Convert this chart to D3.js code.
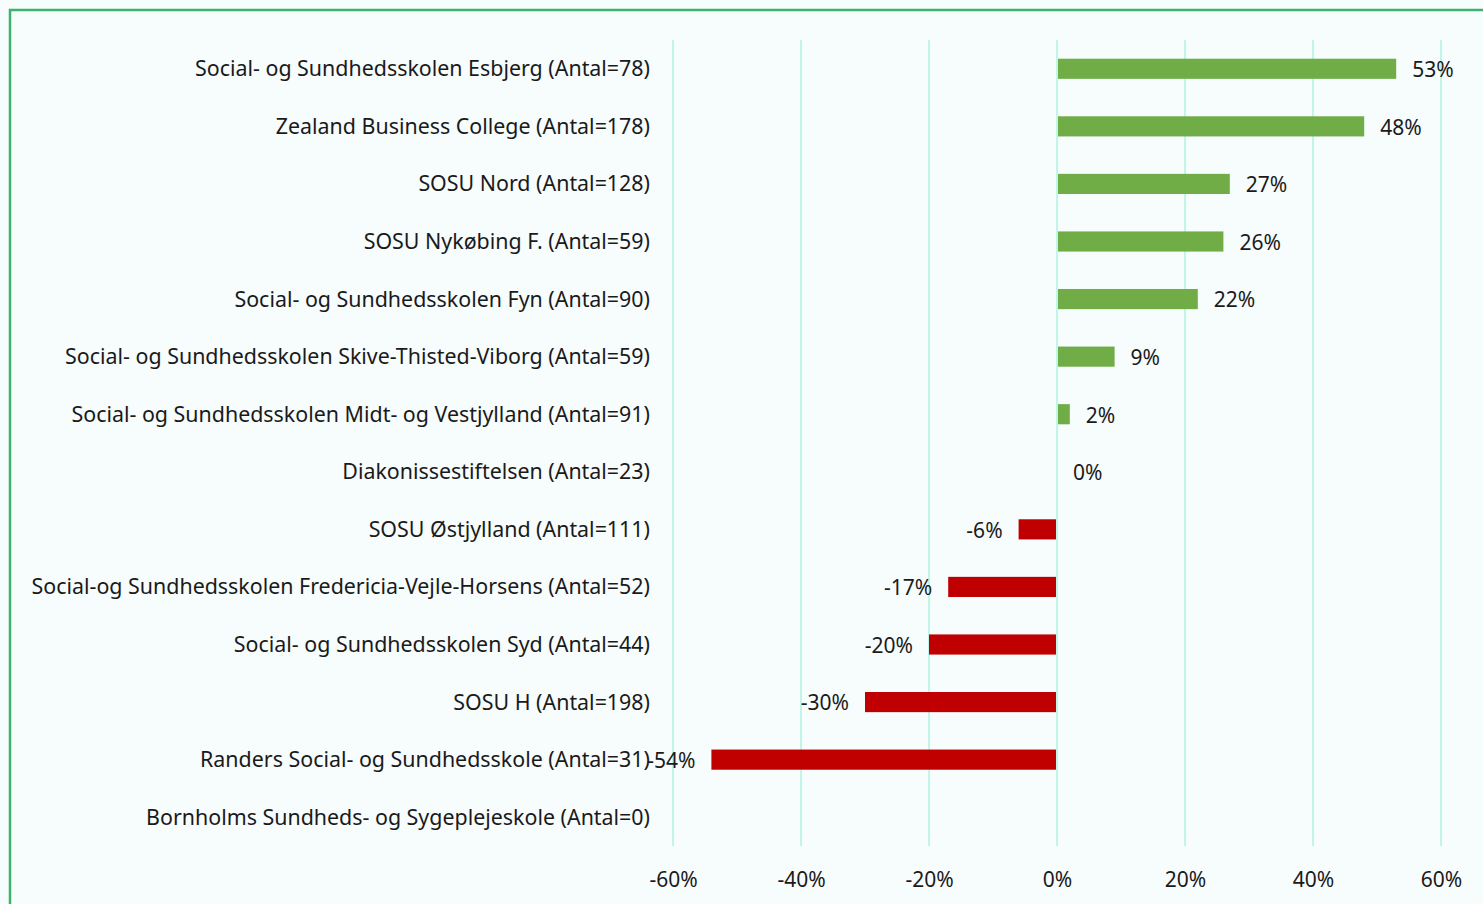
<!DOCTYPE html>
<html>
<head>
<meta charset="utf-8">
<script src="https://cdn.jsdelivr.net/npm/d3@7"></script>
<style>
  body { margin: 0; background: #f7fcfd; }
  #chart { width: 1483px; height: 904px; }
  text { font-family: "Noto Sans", sans-serif; fill: #1a1a1a; }
</style>
</head>
<body>
<div id="chart"></div>
<script>

// schools (with respondent counts) and their change
let schools = [
    "Social- og Sundhedsskolen Esbjerg (Antal=78)",
    "Zealand Business College (Antal=178)",
    "SOSU Nord (Antal=128)",
    "SOSU Nykøbing F. (Antal=59)",
    "Social- og Sundhedsskolen Fyn (Antal=90)",
    "Social- og Sundhedsskolen Skive-Thisted-Viborg (Antal=59)",
    "Social- og Sundhedsskolen Midt- og Vestjylland (Antal=91)",
    "Diakonissestiftelsen (Antal=23)",
    "SOSU Østjylland (Antal=111)",
    "Social-og Sundhedsskolen Fredericia-Vejle-Horsens (Antal=52)",
    "Social- og Sundhedsskolen Syd (Antal=44)",
    "SOSU H (Antal=198)",
    "Randers Social- og Sundhedsskole (Antal=31)",
    "Bornholms Sundheds- og Sygeplejeskole (Antal=0)"
];
let values = [0.53, 0.48, 0.27, 0.26, 0.22, 0.09, 0.02, 0, -0.06, -0.17, -0.20, -0.30, -0.54, null];
let xTicks = [-0.6, -0.4, -0.2, 0, 0.2, 0.4, 0.6];

let data = schools.map((s, i) => ({school: s, value: values[i]}));

// percent with a plain hyphen as minus sign
let pct = d => Math.round(d * 100) + "%";

let W = 1483, H = 904;
let margin = {top: 40, right: 42, bottom: 58, left: 673};
let width = W - margin.left - margin.right;
let height = H - margin.top - margin.bottom;

let svg = d3.select("#chart").append("svg")
    .attr("width", W)
    .attr("height", H);

// frame
svg.append("rect")
    .attr("x", 0).attr("y", 0).attr("width", W).attr("height", H)
    .attr("fill", "#f7fcfd");
svg.append("path")
    .attr("d", "M10," + H + "V10H" + W)
    .attr("fill", "none")
    .attr("stroke", "#3cb36c")
    .attr("stroke-width", 2.5);

let g = svg.append("g")
    .attr("transform", "translate(" + margin.left + "," + margin.top + ")");

let x = d3.scaleLinear()
    .domain([-0.6, 0.6])
    .range([0, width]);

let y = d3.scaleBand()
    .domain(schools)
    .range([0, height])
    .paddingInner(0.65)
    .paddingOuter(0.325);

// gridlines
g.selectAll(".grid")
    .data(xTicks)
    .enter().append("line")
    .attr("class", "grid")
    .attr("x1", d => x(d)).attr("x2", d => x(d))
    .attr("y1", 0).attr("y2", height)
    .attr("stroke", "#c0f5e8")
    .attr("stroke-width", 2);

// x axis
let xAxis = d3.axisBottom(x)
    .tickValues(xTicks)
    .tickFormat(pct)
    .tickSize(0)
    .tickPadding(26);

g.append("g")
    .attr("class", "x-axis axis")
    .attr("transform", "translate(0," + height + ")")
    .call(xAxis)
    .call(a => a.select(".domain").remove())
    .selectAll("text")
    .style("font-size", "21px")
    .style("fill", "#1a1a1a");

// category labels
g.selectAll(".cat")
    .data(data)
    .enter().append("text")
    .attr("class", "cat")
    .attr("x", -23)
    .attr("y", d => y(d.school) + y.bandwidth() / 2)
    .attr("dy", "0.35em")
    .attr("text-anchor", "end")
    .style("font-size", "21.4px")
    .text(d => d.school);

// bars
let barData = data.filter(d => d.value !== null && d.value !== 0);
g.selectAll(".bar")
    .data(barData)
    .enter().append("rect")
    .attr("class", "bar")
    .attr("x", d => d.value > 0 ? x(0) + 1 : x(d.value))
    .attr("width", d => Math.abs(x(d.value) - x(0)) - 1)
    .attr("y", d => y(d.school))
    .attr("height", y.bandwidth())
    .attr("fill", d => d.value > 0 ? "#70ad47" : "#c00000");

// value labels
g.selectAll(".val")
    .data(data.filter(d => d.value !== null))
    .enter().append("text")
    .attr("class", "val")
    .attr("x", d => d.value >= 0 ? x(d.value) + 16 : x(d.value) - 16)
    .attr("y", d => y(d.school) + y.bandwidth() / 2)
    .attr("dy", "0.4em")
    .attr("text-anchor", d => d.value >= 0 ? "start" : "end")
    .style("font-size", "21px")
    .text(d => pct(d.value));

</script>
</body>
</html>
